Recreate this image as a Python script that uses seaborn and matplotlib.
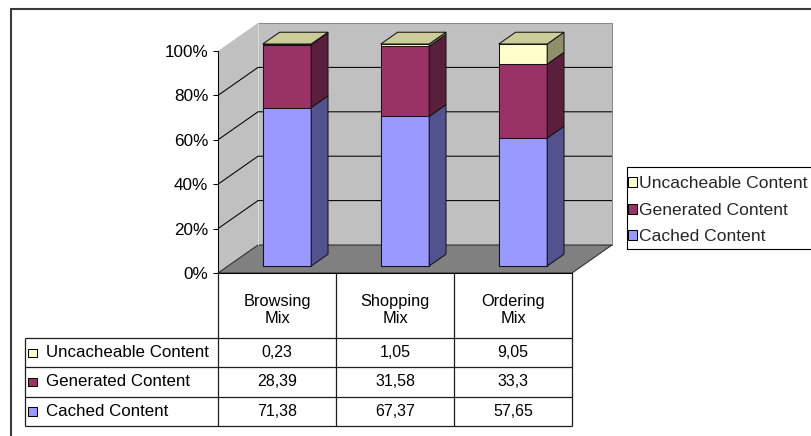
import matplotlib
matplotlib.use("Agg")
import matplotlib.pyplot as plt
from matplotlib.patches import Polygon, Rectangle, Patch
from matplotlib.lines import Line2D
from matplotlib.transforms import Affine2D, IdentityTransform
import pandas as pd
import seaborn as sns

# ---------------- data ----------------
categories = ["Browsing\nMix", "Shopping\nMix", "Ordering\nMix"]
series = ["Uncacheable Content", "Generated Content", "Cached Content"]
uncacheable = [0.23, 1.05, 9.05]
generated = [28.39, 31.58, 33.3]
cached = [71.38, 67.37, 57.65]
y_ticks = [0, 20, 40, 60, 80, 100]
y_tick_labels = ["0%", "20%", "40%", "60%", "80%", "100%"]

# ---------------- styles ----------------
front = {"Uncacheable Content": "#ffffcc", "Generated Content": "#993366", "Cached Content": "#9999ff"}
side = {"Uncacheable Content": "#8f8f6b", "Generated Content": "#5a1f3c", "Cached Content": "#52528f"}
top_col = "#cccc99"
EDGE = "#141414"

W, H, DPI = 811, 436, 100
sns.set_theme(style="white")
plt.rcParams["font.family"] = ["Liberation Sans", "DejaVu Sans"]

fig = plt.figure(figsize=(W / DPI, H / DPI), dpi=DPI, facecolor="white")
L, R, T, B = 218, 572, 51, 273
ax = fig.add_axes([L / W, (H - B) / H, (R - L) / W, (B - T) / H])
ax.set_facecolor("none")

df = pd.DataFrame({"mix": categories, "cached": cached,
                   "generated": generated, "uncacheable": uncacheable})
df["lvl1"] = df["cached"]
df["lvl2"] = df["lvl1"] + df["generated"]
df["lvl3"] = df["lvl2"] + df["uncacheable"]

BAR_W = 0.41
for col, name in [("lvl3", "Uncacheable Content"), ("lvl2", "Generated Content"),
                  ("lvl1", "Cached Content")]:
    sns.barplot(data=df, x="mix", y=col, color=front[name], saturation=1,
                width=BAR_W, errorbar=None, edgecolor=EDGE, linewidth=0.75,
                zorder=3, ax=ax)

ax.set_xlim(-0.5, 2.5)
ax.set_ylim(0, 100)
ax.set_xlabel("")
ax.set_ylabel("")

# oblique depth projection (pixels)
DX, DY = 40, 28
F0, F1 = 0.25, 0.67
bar_patches = list(ax.patches)
for p in bar_patches:
    p.set_transform(ax.transData + Affine2D().translate(DX * F0, DY * F0))
    p.set_clip_on(False)

IDT = IdentityTransform()


def P(x, y, f):
    px, py = ax.transData.transform((x, y))
    return (px + DX * f, py + DY * f)


def poly(pts, fc, ec="none", lw=0.75, z=1.0):
    ax.add_patch(Polygon(pts, closed=True, facecolor=fc, edgecolor=ec, linewidth=lw,
                         transform=IDT, clip_on=False, zorder=z))


def line(xs, ys, color="black", lw=0.75, z=1.0):
    ax.add_line(Line2D(xs, ys, color=color, linewidth=lw, transform=IDT,
                       clip_on=False, zorder=z, solid_capstyle="butt"))


x0, x1 = -0.5, 2.5
# walls and floor
poly([P(x0, 0, 1), P(x1, 0, 1), P(x1, 100, 1), P(x0, 100, 1)], "#c0c0c0", "#8a8a8a", 0.75, 0.2)
poly([P(x0, 0, 0), P(x0, 0, 1), P(x0, 100, 1), P(x0, 100, 0)], "#c0c0c0", "none", 0.75, 0.2)
poly([P(x0, 0, 0), P(x1, 0, 0), P(x1, 0, 1), P(x0, 0, 1)], "#808080", "#2a2a2a", 0.75, 0.3)
a, b = P(x0, 0, 1), P(x0, 100, 1)
line([a[0], b[0]], [a[1], b[1]], "#dadada", 0.75, 0.35)
for yv in y_ticks[1:-1]:
    p0, p1, p2 = P(x0, yv, 0), P(x0, yv, 1), P(x1, yv, 1)
    line([p0[0], p1[0], p2[0]], [p0[1], p1[1], p2[1]], "black", 0.75, 0.4)

# 3D side and top faces of the bars, from the bar geometry
front_bars = sorted(bar_patches[-3:], key=lambda p: p.get_x())
for i, p in enumerate(front_bars):
    xl = p.get_x()
    xr = xl + p.get_width()
    levels = [0, cached[i], cached[i] + generated[i], cached[i] + generated[i] + uncacheable[i]]
    names = ["Cached Content", "Generated Content", "Uncacheable Content"]
    for k in range(3):
        lo, hi = levels[k], levels[k + 1]
        if hi - lo <= 0:
            continue
        poly([P(xr, lo, F0), P(xr, hi, F0), P(xr, hi, F1), P(xr, lo, F1)],
             side[names[k]], EDGE, 0.75, 3.5)
    tot = levels[-1]
    poly([P(xl, tot, F0), P(xr, tot, F0), P(xr, tot, F1), P(xl, tot, F1)],
         top_col, EDGE, 0.75, 3.6)

# axes styling
for s in ["top", "right"]:
    ax.spines[s].set_visible(False)
for s in ["left", "bottom"]:
    ax.spines[s].set_color("black")
    ax.spines[s].set_linewidth(0.75)
ax.set_yticks(y_ticks, y_tick_labels)
ax.tick_params(axis="y", left=True, direction="out", length=3.5, width=0.75,
               pad=3.5, labelsize=12.3, color="black", labelcolor="black")
ax.tick_params(axis="x", bottom=False, labelbottom=False)

# ---------------- data table ----------------
col_x = [P(x, 0, 0)[0] for x in (-0.5, 0.5, 1.5, 2.5)]
y_top = P(0, 0, 0)[1]          # 163
y_head = y_top - 65            # header bottom
row_h = 29.3
rows_y = [y_head - k * row_h for k in range(4)]
tab_left = 25
TC = "#1e1e1e"
for cx in col_x:
    line([cx, cx], [y_top, rows_y[-1]], TC, 0.9, 5)
line([tab_left, tab_left], [rows_y[0], rows_y[-1]], TC, 0.9, 5)
for ry in rows_y:
    line([tab_left, col_x[-1]], [ry, ry], TC, 0.9, 5)

for j, cat in enumerate(categories):
    cx = (col_x[j] + col_x[j + 1]) / 2
    ax.text(cx, y_top - 37, cat, transform=IDT, ha="center", va="center",
            multialignment="center", fontsize=11.8, linespacing=1.15,
            color="black", clip_on=False)

table_rows = [("Uncacheable Content", uncacheable), ("Generated Content", generated),
              ("Cached Content", cached)]
for r, (name, vals) in enumerate(table_rows):
    cy = rows_y[r] - row_h / 2
    ax.add_patch(Rectangle((28, cy - 4.5), 8.5, 8.5, facecolor=front[name], edgecolor="black",
                           linewidth=0.75, transform=IDT, clip_on=False, zorder=6))
    ax.text(46, cy, name, transform=IDT, ha="left", va="center", fontsize=12.2,
            color="black", clip_on=False)
    for j, v in enumerate(vals):
        cx = (col_x[j] + col_x[j + 1]) / 2
        ax.text(cx, cy, f"{v:g}".replace(".", ","), transform=IDT, ha="center",
                va="center", fontsize=11.5, color="black", clip_on=False)

# ---------------- legend ----------------
handles = [Patch(facecolor=front[n], edgecolor="black", linewidth=0.75) for n in series]
leg = fig.legend(handles, series, loc="upper left",
                 bbox_to_anchor=(624 / W, (H - 172) / H), bbox_transform=fig.transFigure,
                 borderaxespad=0, frameon=False, fontsize=12.6, handlelength=0.52,
                 handleheight=0.52, handletextpad=0.08, labelspacing=0.66, borderpad=0.25)
# legend frame runs past the right edge of the picture, as in the original
fig.add_artist(Rectangle((627, H - 249), 250, 82, fill=False, edgecolor="black",
                         linewidth=0.8, transform=IDT))

# outer chart border (extends past the right/bottom edges)
fig.add_artist(Rectangle((11, -20), 900, H - 9 + 20, fill=False, edgecolor="#3a3a3a",
                         linewidth=1.5, transform=IDT))

fig.savefig("out.png", dpi=DPI, facecolor="white")
